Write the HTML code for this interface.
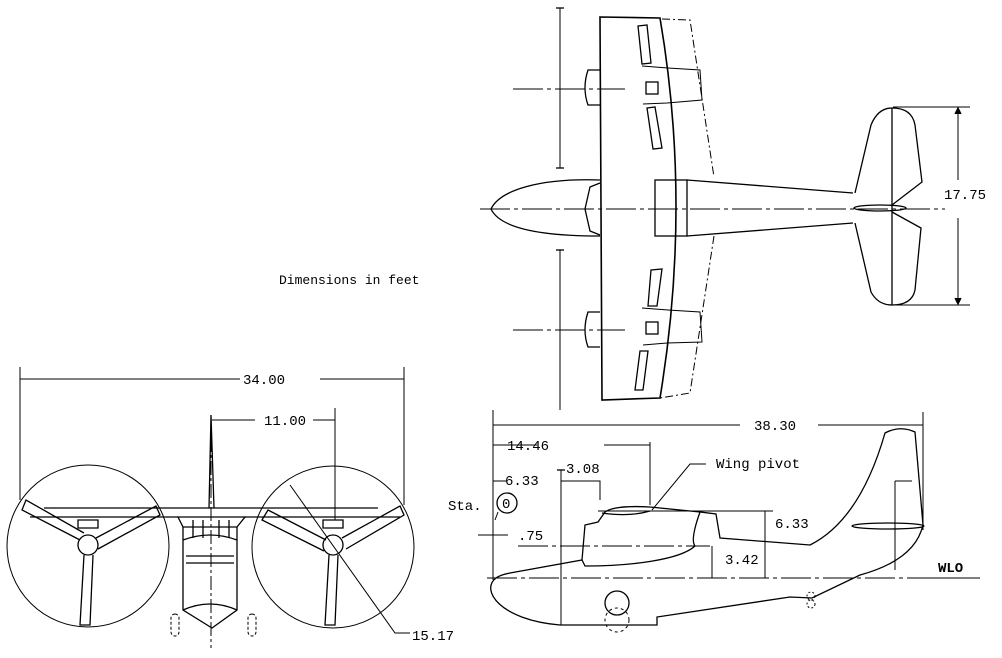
<!DOCTYPE html>
<html><head><meta charset="utf-8"><style>
html,body{margin:0;padding:0;background:#fff;width:1002px;height:658px;overflow:hidden}
svg text{font-family:"Liberation Mono",monospace;font-size:14px;fill:#000}
</style></head><body>
<svg width="1002" height="658" viewBox="0 0 1002 658" xmlns="http://www.w3.org/2000/svg" fill="none" stroke="#000" stroke-width="1.3">
<!-- TOP VIEW -->
<line x1="480" y1="209" x2="945" y2="209" stroke-dasharray="30,4,4,4" stroke-width="1"/>
<path d="M600,17 L660,18 Q692,205 660,398 L602,400 Z" stroke-width="1.6"/>
<path d="M662,19 L690,20 L714,177 M714,236 L690,393 L660,398" stroke-dasharray="8,3,2,3" stroke-width="1"/>
<path d="M642,66 L668,68 L700,70 L702,100 L667,103 L643,104" stroke-width="1"/>
<path d="M642,308 L668,310 L700,312 L702,342 L667,343 L643,345" stroke-width="1"/>
<path d="M600,70 L588,70 Q582,88 588,105 L600,105"/>
<path d="M600,312 L588,312 Q582,330 588,347 L600,347"/>
<rect x="646" y="82" width="12" height="12"/><rect x="646" y="322" width="12" height="12"/>
<path d="M638,26 L647,25 L651,63 L642,64 Z"/><path d="M647,108 L655,107 L662,148 L653,149 Z"/>
<path d="M651,270 L662,269 L657,306 L648,306 Z"/><path d="M640,351 L648,351 L643,390 L635,390 Z"/>
<path d="M600,180 C540,178 500,190 491,209 C500,228 540,236 600,236"/>
<path d="M600,183 L590,187 L585,209 L590,231 L600,235"/>
<rect x="655" y="180" width="32" height="56"/>
<path d="M687,180 L853,193 M687,236 L853,223"/>
<line x1="892" y1="108" x2="892" y2="305"/>
<path d="M855,193 L871,125 Q878,108 892,108 Q912,108 915,125 L922,182 L892,205"/>
<path d="M855,223 L871,292 Q878,305 892,305 Q912,305 915,290 L921,228 L892,212"/>
<ellipse cx="880" cy="208" rx="26" ry="3"/>
<line x1="893" y1="107" x2="970" y2="107" stroke-width="1"/><line x1="893" y1="305" x2="970" y2="305" stroke-width="1"/>
<line x1="958" y1="108" x2="958" y2="180" stroke-width="1"/><line x1="958" y1="218" x2="958" y2="304" stroke-width="1"/>
<path d="M955,114 L958,108 L961,114 M955,298 L958,304 L961,298" fill="#000"/>
<text x="944" y="199" stroke="none">17.75</text>
<line x1="560" y1="8" x2="560" y2="168" stroke-width="1"/><line x1="556" y1="8" x2="564" y2="8"/><line x1="556" y1="168" x2="564" y2="168"/>
<line x1="560" y1="250" x2="560" y2="410" stroke-width="1"/><line x1="556" y1="250" x2="564" y2="250"/>
<line x1="513" y1="89" x2="625" y2="89" stroke-dasharray="30,4,4,4" stroke-width="1"/>
<line x1="513" y1="330" x2="625" y2="330" stroke-dasharray="30,4,4,4" stroke-width="1"/>
<text x="279" y="284" stroke="none" style="font-size:13px">Dimensions in feet</text>
<!-- FRONT VIEW -->
<line x1="20" y1="367" x2="20" y2="500" stroke-width="1"/><line x1="404" y1="367" x2="404" y2="505" stroke-width="1"/>
<line x1="20" y1="379" x2="240" y2="379" stroke-width="1"/><line x1="320" y1="379" x2="404" y2="379" stroke-width="1"/>
<text x="243" y="384" stroke="none">34.00</text>
<line x1="212" y1="420" x2="255" y2="420" stroke-width="1"/><line x1="313" y1="420" x2="335" y2="420" stroke-width="1"/>
<text x="264" y="425" stroke="none">11.00</text>
<line x1="335" y1="408" x2="335" y2="520" stroke-width="1"/>
<line x1="211" y1="415" x2="211" y2="648" stroke-dasharray="14,3,3,3" stroke-width="1"/>
<path d="M209,508 L211,415 L214,508"/>
<circle cx="88" cy="546" r="81" stroke-width="1"/><circle cx="333" cy="547" r="81" stroke-width="1"/>
<path d="M44,508 L378,508 M30,517 L178,517 M245,517 L400,517"/>
<path d="M178,517 L245,517 L237,527 L183,527 Z"/>
<path d="M183,527 L183,610 L212,628 L237,610 L237,527"/>
<path d="M183,540 Q210,530 237,540 M186,556 L234,556 M186,563 L234,563 M183,610 Q210,598 237,610"/>
<path d="M193,520 L193,538 M203,520 L203,538 M219,520 L219,538 M229,520 L229,538"/>
<circle cx="88" cy="545" r="10"/><circle cx="333" cy="545" r="10"/>
<path d="M80,540 L22,510 L26,500 L84,533 M96,538 L156,506 L160,515 L98,549 M84,555 L80,625 L90,625 L93,555"/>
<path d="M326,540 L268,510 L262,520 L324,551 M342,538 L400,506 L404,515 L346,549 M329,555 L325,625 L335,625 L338,555"/>
<path d="M78,520 L98,520 L98,528 L78,528 Z M323,520 L343,520 L343,528 L323,528 Z"/>
<rect x="171" y="614" width="8" height="22" rx="4" stroke-dasharray="3,2" stroke-width="1"/>
<rect x="248" y="614" width="8" height="22" rx="4" stroke-dasharray="3,2" stroke-width="1"/>
<path d="M290,485 L395,633 L410,633" stroke-width="1"/>
<text x="412" y="640" stroke="none">15.17</text>
<!-- SIDE VIEW -->
<line x1="493" y1="410" x2="493" y2="580" stroke-width="1"/><line x1="923" y1="412" x2="923" y2="530" stroke-width="1"/>
<line x1="493" y1="425" x2="740" y2="425" stroke-width="1"/><line x1="818" y1="425" x2="923" y2="425" stroke-width="1"/>
<text x="754" y="430" stroke="none">38.30</text>
<line x1="493" y1="445" x2="537" y2="445" stroke-width="1"/><line x1="604" y1="445" x2="650" y2="445" stroke-width="1"/>
<text x="507" y="450" stroke="none">14.46</text>
<line x1="650" y1="442" x2="650" y2="505" stroke-width="1"/>
<line x1="493" y1="481" x2="506" y2="481" stroke-width="1"/><text x="505" y="485" stroke="none">6.33</text>
<line x1="561" y1="470" x2="561" y2="625" stroke-width="1"/><line x1="557" y1="470" x2="565" y2="470"/>
<text x="566" y="473" stroke="none">3.08</text>
<path d="M561,481 L600,481 L600,500" stroke-width="1"/>
<circle cx="507" cy="503" r="10"/><text x="502" y="508" stroke="none">0</text>
<text x="448" y="510" stroke="none">Sta.</text>
<path d="M498,512 L495,520" stroke-width="1"/>
<line x1="478" y1="535" x2="508" y2="535" stroke-width="1"/><text x="518" y="540" stroke="none">.75</text>
<line x1="487" y1="578" x2="935" y2="578" stroke-dasharray="30,4,4,4" stroke-width="1"/>
<line x1="935" y1="578" x2="980" y2="578" stroke-width="1"/>
<text x="938" y="572" stroke="none" style="font-weight:bold">WLO</text>
<line x1="518" y1="546" x2="710" y2="546" stroke-dasharray="30,4,4,4" stroke-width="1"/>
<line x1="712" y1="546" x2="712" y2="578" stroke-width="1"/><text x="725" y="564" stroke="none">3.42</text>
<line x1="598" y1="511" x2="773" y2="511" stroke-width="1"/>
<line x1="765" y1="511" x2="765" y2="578" stroke-width="1"/><text x="775" y="528" stroke="none">6.33</text>
<path d="M496,578 C480,590 500,620 560,625 L657,625 L657,617 L790,597 L812,598 L860,575 Q915,560 923,525 L915,432 Q900,425 885,433 Q860,520 810,545 L720,538 L716,514 L700,512 Q690,540 695,546 C680,560 630,566 585,566 L582,560 L510,573 Q500,575 496,578 Z"/>
<path d="M582,560 L585,525 L598,522 L605,512 Q615,505 650,507 L700,512"/>
<path d="M602,513 Q630,517 650,511"/>
<path d="M895,481 L912,481 M895,481 L895,570" stroke-width="1"/>
<ellipse cx="888" cy="526" rx="36" ry="3"/>
<circle cx="617" cy="603" r="12"/><circle cx="617" cy="620" r="12" stroke-dasharray="3,3" stroke-width="1"/>
<circle cx="811" cy="596" r="4" stroke-dasharray="2,2" stroke-width="1"/><circle cx="811" cy="604" r="4" stroke-dasharray="2,2" stroke-width="1"/>
<path d="M652,510 L690,464 L706,464" stroke-width="1"/>
<text x="716" y="468" stroke="none">Wing pivot</text>
</svg>
</body></html>
